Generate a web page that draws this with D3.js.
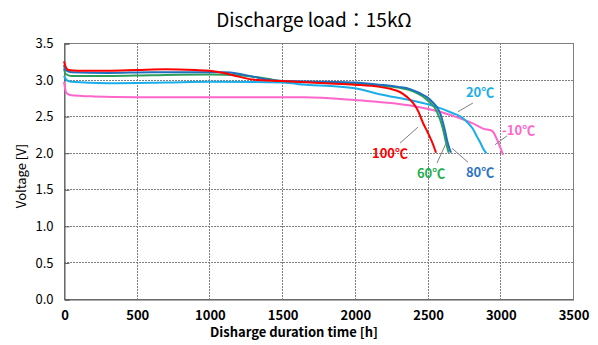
<!DOCTYPE html>
<html>
<head>
<meta charset="utf-8">
<style>
    body { margin: 0; background: #fff; }
    text { font-family: "Noto Sans CJK JP", "Liberation Sans", sans-serif; fill: #000; }
    .grid line { stroke: #7f7f7f; stroke-dasharray: 2,1; shape-rendering: crispEdges; }
    .tick-y { font-size: 13px; }
    .tick-x { font-size: 13px; font-weight: bold; }
    .curve { fill: none; stroke-width: 2; }
    .lbl { font-size: 13px; font-weight: bold; }
    .leader { stroke: #7f7f7f; stroke-width: 1; }
</style>
<script src="https://d3js.org/d3.v7.min.js"></script>
</head>
<body>
<svg width="598" height="345"></svg>
<script>
// tick labels
var xTicks = [0, 500, 1000, 1500, 2000, 2500, 3000, 3500];
var yTicks = [0, 0.5, 1.0, 1.5, 2.0, 2.5, 3.0, 3.5];

// discharge curves (time [h], voltage [V])
var t100 = [0, 10, 30, 100, 300, 500, 700, 900, 1000, 1100, 1200, 1300, 1500, 1800, 2000, 2170, 2250, 2310, 2360, 2400, 2435, 2468, 2503, 2530, 2551, 2558];
var v100 = [3.25, 3.18, 3.13, 3.12, 3.12, 3.13, 3.14, 3.13, 3.12, 3.09, 3.04, 3.00, 2.98, 2.95, 2.93, 2.90, 2.87, 2.83, 2.76, 2.68, 2.57, 2.41, 2.27, 2.15, 2.04, 2.00];

var t80 = [0, 10, 50, 300, 600, 1000, 1100, 1200, 1300, 1400, 1500, 1800, 2000, 2170, 2300, 2380, 2440, 2496, 2535, 2565, 2590, 2606, 2620, 2634, 2650, 2662];
var v80 = [3.20, 3.13, 3.10, 3.09, 3.10, 3.10, 3.10, 3.08, 3.04, 3.00, 2.98, 2.97, 2.96, 2.93, 2.90, 2.87, 2.82, 2.76, 2.69, 2.62, 2.52, 2.41, 2.30, 2.17, 2.06, 2.00];

var t60 = [0, 10, 50, 300, 600, 1000, 1200, 1300, 1400, 1500, 1800, 2000, 2170, 2300, 2370, 2430, 2480, 2520, 2550, 2575, 2595, 2610, 2622, 2635, 2645];
var v60 = [3.15, 3.08, 3.05, 3.05, 3.06, 3.07, 3.06, 3.04, 3.01, 2.98, 2.96, 2.95, 2.92, 2.89, 2.86, 2.81, 2.75, 2.68, 2.61, 2.51, 2.40, 2.29, 2.18, 2.07, 2.00];

var t20 = [0, 20, 50, 300, 700, 1000, 1500, 1600, 2000, 2170, 2400, 2540, 2675, 2730, 2771, 2810, 2840, 2865, 2881, 2905];
var v20 = [3.05, 2.99, 2.97, 2.95, 2.96, 2.97, 2.96, 2.94, 2.88, 2.80, 2.71, 2.64, 2.54, 2.49, 2.42, 2.33, 2.22, 2.13, 2.06, 1.99];

var tm10 = [0, 15, 40, 200, 500, 1000, 1500, 1650, 2000, 2400, 2585, 2723, 2812, 2881, 2943, 2984, 3019];
var vm10 = [2.97, 2.82, 2.79, 2.77, 2.76, 2.76, 2.76, 2.76, 2.72, 2.64, 2.56, 2.47, 2.40, 2.33, 2.30, 2.15, 1.97];

var seriesNames = ["-10℃", "20℃", "60℃", "80℃", "100℃"];
var seriesT = [tm10, t20, t60, t80, t100];
var seriesV = [vm10, v20, v60, v80, v100];
var seriesColor = ["#ff66cc", "#19aeea", "#2e9e5b", "#1f6fbf", "#ff0000"];

// label anchors in data units: text position and leader line ends
var labelT = [3012, 2764, 2427, 2764, 2118];
var labelV = [2.24, 2.76, 1.65, 1.67, 1.93];
var leaderT1 = [3046, 2812, 2627, 2668, 2434];
var leaderV1 = [2.23, 2.68, 2.13, 2.06, 2.35];
var leaderT2 = [2964, 2709, 2565, 2778, 2310];
var leaderV2 = [2.11, 2.56, 1.86, 1.87, 2.13];
var labelColor = ["#ff66cc", "#19aeea", "#1fae4f", "#2e75c0", "#ff0000"];

var svg = d3.select("svg");
var pl = 64, pr = 573, pt = 43, pb = 299;

var x = d3.scaleLinear().domain([0, 3500]).range([pl, pr]);
var y = d3.scaleLinear().domain([0, 3.5]).range([pb, pt]);

// title
svg.append("text")
   .attr("x", 314).attr("y", 27)
   .attr("text-anchor", "middle")
   .style("font-size", "19px")
   .text("Discharge load：15kΩ");

// gridlines
var grid = svg.append("g").attr("class", "grid");
grid.selectAll(".gx").data(xTicks.slice(1, -1)).enter().append("line")
    .attr("x1", d => Math.round(x(d)) + 0.5).attr("x2", d => Math.round(x(d)) + 0.5)
    .attr("y1", pt).attr("y2", pb);
grid.selectAll(".gy").data(yTicks.slice(1, -1)).enter().append("line")
    .attr("x1", pl).attr("x2", pr)
    .attr("y1", d => Math.round(y(d)) + 0.5).attr("y2", d => Math.round(y(d)) + 0.5);

// frame
svg.append("rect")
   .attr("x", pl + 0.5).attr("y", pt + 0.5)
   .attr("width", pr - pl).attr("height", pb - pt)
   .attr("fill", "none").attr("stroke", "#7f7f7f");

// axes
var yAxis = d3.axisLeft(y).tickValues(yTicks).tickSize(-5).tickPadding(11).tickFormat(d3.format(".1f"));
var gy = svg.append("g").attr("transform", "translate(" + (pl + 0.5) + ",0.5)").call(yAxis);
gy.select(".domain").attr("stroke", "#595959");
gy.selectAll(".tick line").attr("stroke", "#595959");
gy.selectAll("text").attr("class", "tick-y").attr("fill", "#000");

var xAxis = d3.axisBottom(x).tickValues(xTicks).tickSize(0).tickPadding(11).tickFormat(d3.format("d"));
var gx = svg.append("g").attr("transform", "translate(0.5," + (pb + 0.5) + ")").call(xAxis);
gx.select(".domain").attr("stroke", "#595959");
gx.selectAll("text").attr("class", "tick-x").attr("fill", "#000");

// axis titles
svg.append("text")
   .attr("x", 294).attr("y", 337)
   .attr("text-anchor", "middle")
   .style("font-size", "13px").style("font-weight", "bold")
   .text("Disharge duration time [h]");

svg.append("text")
   .attr("transform", "translate(26,176) rotate(-90)")
   .attr("text-anchor", "middle")
   .style("font-size", "13px")
   .text("Voltage [V]");

// curves
var line = d3.line()
    .x(d => x(d[0]))
    .y(d => y(d[1]))
    .curve(d3.curveMonotoneX);

seriesNames.forEach(function(name, i) {
    var pts = seriesT[i].map((t, j) => [t, seriesV[i][j]]);
    svg.append("path")
       .attr("class", "curve")
       .attr("stroke", seriesColor[i])
       .attr("stroke-width", i === 4 ? 2.5 : 2)
       .attr("d", line(pts));
});

// labels with leader lines
seriesNames.forEach(function(name, i) {
    svg.append("line")
       .attr("class", "leader")
       .attr("x1", x(leaderT1[i])).attr("y1", y(leaderV1[i]))
       .attr("x2", x(leaderT2[i])).attr("y2", y(leaderV2[i]));
    svg.append("text")
       .attr("class", "lbl")
       .attr("x", x(labelT[i])).attr("y", y(labelV[i]))
       .style("fill", labelColor[i])
       .text(name);
});
</script>
</body>
</html>
